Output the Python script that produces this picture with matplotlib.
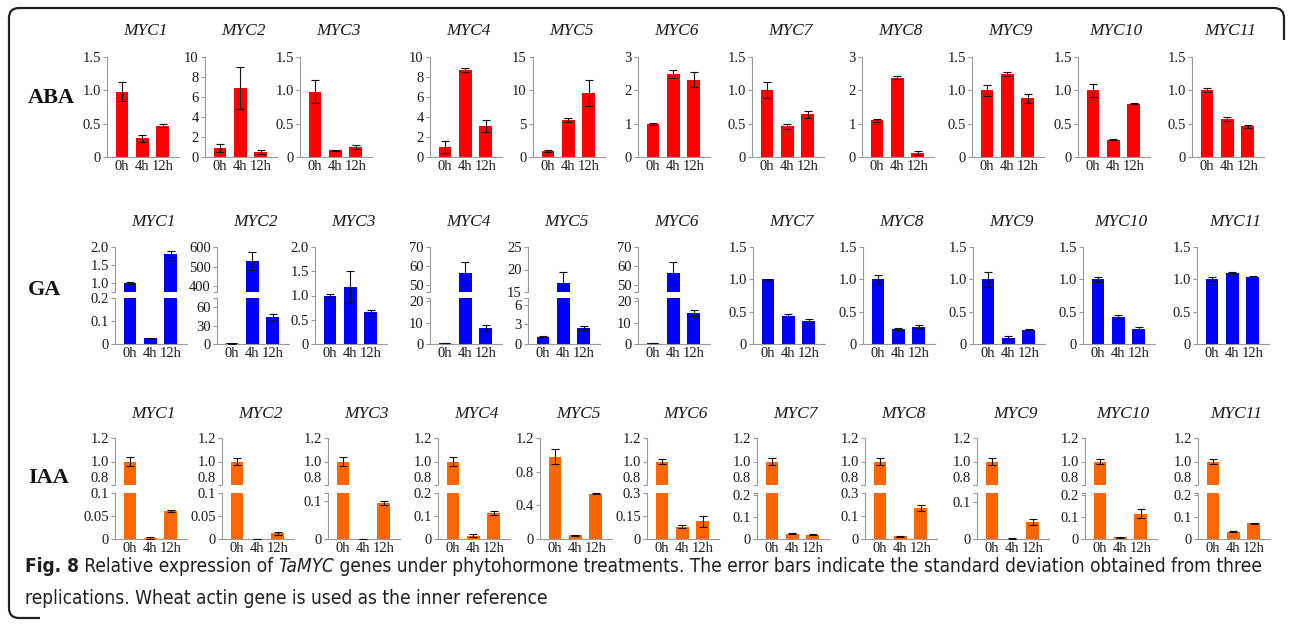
import numpy as np
import matplotlib
matplotlib.use('Agg')
import matplotlib.pyplot as plt
from matplotlib import font_manager
from matplotlib.path import Path
from matplotlib.patches import PathPatch

plt.rcParams['font.family'] = 'serif'
plt.rcParams['font.serif'] = ['Liberation Serif', 'DejaVu Serif']

genes = ['MYC1', 'MYC2', 'MYC3', 'MYC4', 'MYC5', 'MYC6',
         'MYC7', 'MYC8', 'MYC9', 'MYC10', 'MYC11']
times = ['0h', '4h', '12h']

# relative expression (0h, 4h, 12h) and standard deviation
aba_mean = [[0.98, 0.28, 0.47], [0.95, 6.9, 0.5], [0.98, 0.10, 0.15],
            [1.0, 8.7, 3.1], [0.9, 5.6, 9.6], [1.0, 2.48, 2.32],
            [1.0, 0.46, 0.64], [1.1, 2.38, 0.13], [1.0, 1.25, 0.88],
            [1.0, 0.26, 0.80], [1.0, 0.57, 0.46]]
aba_err = [[0.14, 0.05, 0.02], [0.4, 2.1, 0.2], [0.17, 0.01, 0.03],
           [0.6, 0.2, 0.6], [0.2, 0.3, 2.0], [0.03, 0.12, 0.22],
           [0.12, 0.04, 0.05], [0.05, 0.04, 0.06], [0.08, 0.03, 0.07],
           [0.10, 0.01, 0.01], [0.03, 0.03, 0.02]]

ga_mean = [[1.0, 0.025, 1.8], [1.0, 530, 44], [1.0, 1.17, 0.67],
           [0.5, 56, 7.5], [1.1, 17, 2.4], [0.5, 56, 14.5],
           [1.0, 0.44, 0.35], [1.0, 0.23, 0.27], [1.0, 0.10, 0.22],
           [1.0, 0.42, 0.23], [1.0, 1.10, 1.03]]
ga_err = [[0.03, 0.002, 0.08], [0.3, 45, 5], [0.03, 0.33, 0.03],
          [0.2, 6, 1.2], [0.05, 2.5, 0.3], [0.2, 6, 1.5],
          [0.01, 0.03, 0.03], [0.07, 0.01, 0.02], [0.12, 0.02, 0.01],
          [0.04, 0.03, 0.03], [0.03, 0.01, 0.02]]

iaa_mean = [[1.0, 0.003, 0.06], [1.0, 0.0005, 0.012], [1.0, 0.0005, 0.095],
            [1.0, 0.015, 0.113], [0.98, 0.045, 0.54], [1.0, 0.08, 0.115],
            [1.0, 0.025, 0.02], [1.0, 0.012, 0.135], [1.0, 0.001, 0.046],
            [1.0, 0.008, 0.115], [1.0, 0.033, 0.072]]
iaa_err = [[0.04, 0.002, 0.002], [0.03, 0.0005, 0.003], [0.04, 0.0005, 0.005],
           [0.04, 0.005, 0.01], [0.09, 0.005, 0.01], [0.02, 0.01, 0.035],
           [0.03, 0.002, 0.002], [0.03, 0.003, 0.012], [0.03, 0.001, 0.008],
           [0.02, 0.002, 0.02], [0.02, 0.002, 0.002]]

# axis scales: (ylim, tick values, tick labels); upper part is None when the axis is not broken
aba_axes = [(None, ((0, 1.5), [0, 0.5, 1.0, 1.5], ['0', '0.5', '1.0', '1.5'])),
            (None, ((0, 10), [0, 2, 4, 6, 8, 10], ['0', '2', '4', '6', '8', '10'])),
            (None, ((0, 1.5), [0, 0.5, 1.0, 1.5], ['0', '0.5', '1.0', '1.5'])),
            (None, ((0, 10), [0, 2, 4, 6, 8, 10], ['0', '2', '4', '6', '8', '10'])),
            (None, ((0, 15), [0, 5, 10, 15], ['0', '5', '10', '15'])),
            (None, ((0, 3), [0, 1, 2, 3], ['0', '1', '2', '3'])),
            (None, ((0, 1.5), [0, 0.5, 1.0, 1.5], ['0', '0.5', '1.0', '1.5'])),
            (None, ((0, 3), [0, 1, 2, 3], ['0', '1', '2', '3'])),
            (None, ((0, 1.5), [0, 0.5, 1.0, 1.5], ['0', '0.5', '1.0', '1.5'])),
            (None, ((0, 1.5), [0, 0.5, 1.0, 1.5], ['0', '0.5', '1.0', '1.5'])),
            (None, ((0, 1.5), [0, 0.5, 1.0, 1.5], ['0', '0.5', '1.0', '1.5']))]

ga_axes = [(((0.75, 2.0), [0.75, 1.0, 1.5, 2.0], ['', '1.0', '1.5', '2.0']),
            ((0, 0.2), [0, 0.1, 0.2], ['0', '0.1', '0.2'])),
           (((370, 600), [370, 400, 500, 600], ['', '400', '500', '600']),
            ((0, 75), [0, 30, 60, 75], ['0', '30', '60', ''])),
           (None, ((0, 2.0), [0, 0.5, 1.0, 1.5, 2.0], ['0', '0.5', '1.0', '1.5', '2.0'])),
           (((46, 70), [46, 50, 60, 70], ['', '50', '60', '70']),
            ((0, 21.5), [0, 10, 20, 21.5], ['0', '10', '20', ''])),
           (((15, 25), [15, 20, 25], ['15', '20', '25']),
            ((0, 7), [0, 3, 6, 7], ['0', '3', '6', ''])),
           (((46, 70), [46, 50, 60, 70], ['', '50', '60', '70']),
            ((0, 21.5), [0, 10, 20, 21.5], ['0', '10', '20', ''])),
           (None, ((0, 1.5), [0, 0.5, 1.0, 1.5], ['0', '0.5', '1.0', '1.5'])),
           (None, ((0, 1.5), [0, 0.5, 1.0, 1.5], ['0', '0.5', '1.0', '1.5'])),
           (None, ((0, 1.5), [0, 0.5, 1.0, 1.5], ['0', '0.5', '1.0', '1.5'])),
           (None, ((0, 1.5), [0, 0.5, 1.0, 1.5], ['0', '0.5', '1.0', '1.5'])),
           (None, ((0, 1.5), [0, 0.5, 1.0, 1.5], ['0', '0.5', '1.0', '1.5']))]

iaa_top = ((0.8, 1.2), [0.8, 1.0, 1.2], ['0.8', '1.0', '1.2'])
iaa_axes = [(iaa_top, ((0, 0.1), [0, 0.05, 0.1], ['0', '0.05', '0.1'])),
            (iaa_top, ((0, 0.1), [0, 0.05, 0.1], ['0', '0.05', '0.1'])),
            (iaa_top, ((0, 0.12), [0, 0.1, 0.12], ['0', '0.1', ''])),
            (iaa_top, ((0, 0.2), [0, 0.1, 0.2], ['0', '0.1', '0.2'])),
            (None, ((0, 1.2), [0, 0.4, 0.8, 1.2], ['0', '0.4', '0.8', '1.2'])),
            (iaa_top, ((0, 0.3), [0, 0.15, 0.3], ['0', '0.15', '0.3'])),
            (iaa_top, ((0, 0.21), [0, 0.1, 0.2, 0.21], ['0', '0.1', '0.2', ''])),
            (iaa_top, ((0, 0.2), [0, 0.1, 0.2], ['0', '0.1', '0.3'])),
            (iaa_top, ((0, 0.125), [0, 0.1, 0.125], ['0', '0.1', ''])),
            (iaa_top, ((0, 0.21), [0, 0.1, 0.2, 0.21], ['0', '0.1', '0.2', ''])),
            (iaa_top, ((0, 0.21), [0, 0.1, 0.2, 0.21], ['0', '0.1', '0.2', '']))]

W, H = 1292, 624
fig = plt.figure(figsize=(W / 100, H / 100), dpi=100)
fig.patch.set_facecolor('white')

AXW = 72  # axis width in px
GREY = '#9a9a9a'


def px_rect(x, ytop, ybot):
    return [x / W, 1 - ybot / H, AXW / W, (ybot - ytop) / H]


def style_axis(ax, scale, bottom):
    ylim, ticks, labels = scale
    ax.set_xlim(-0.75, 2.8)
    ax.set_ylim(*ylim)
    ax.set_yticks(ticks, labels)
    for s in ['top', 'right']:
        ax.spines[s].set_visible(False)
    ax.spines['left'].set_color(GREY)
    ax.spines['left'].set_linewidth(0.8)
    ax.spines['bottom'].set_color(GREY)
    ax.spines['bottom'].set_linewidth(0.8)
    ax.spines['bottom'].set_visible(bottom)
    ax.tick_params(axis='y', direction='out', length=3, width=0.8, color=GREY,
                   labelsize=10.5, labelcolor='#1a1a1a', pad=1.5)
    if bottom:
        ax.set_xticks(range(3), times)
        ax.tick_params(axis='x', length=0, labelsize=10.5, labelcolor='#1a1a1a', pad=2)
    else:
        ax.set_xticks([])
    ax.patch.set_alpha(0)


def draw_bars(ax, means, errs, color):
    x = np.arange(3)
    ax.bar(x, means, width=0.62, color=color, zorder=2)
    ax.errorbar(x, means, yerr=errs, fmt='none', ecolor='#111111',
                elinewidth=0.8, capsize=3, capthick=0.8, zorder=3)


rows = [
    dict(name='ABA', mean=aba_mean, err=aba_err, axes=aba_axes, color='#ff0000',
         xs=[107, 205, 300, 430, 533, 638, 752, 862, 972, 1078, 1192],
         top=57, zero=157, brk=None, title_y=31, label_y=98),
    dict(name='GA', mean=ga_mean, err=ga_err, axes=ga_axes, color='#0000ff',
         xs=[115, 217, 315, 430, 528, 638, 753, 863, 973, 1083, 1197],
         top=247, zero=344, brk=(292, 298), title_y=222, label_y=290),
    dict(name='IAA', mean=iaa_mean, err=iaa_err, axes=iaa_axes, color='#ff6600',
         xs=[115, 222, 328, 438, 540, 647, 757, 865, 977, 1085, 1198],
         top=438, zero=539, brk=(485, 493), title_y=414, label_y=478),
]

for row in rows:
    fig.text(28 / W, 1 - row['label_y'] / H, row['name'], fontsize=16,
             fontweight='bold', ha='left', va='center', color='#111111')
    for i, gene in enumerate(genes):
        x0 = row['xs'][i]
        upper, lower = row['axes'][i]
        fig.text((x0 + AXW / 2 + 2) / W, 1 - row['title_y'] / H, gene,
                 fontsize=12.5, style='italic', ha='center', va='center', color='#1a1a1a')
        if upper is None:
            ax = fig.add_axes(px_rect(x0, row['top'], row['zero']))
            draw_bars(ax, row['mean'][i], row['err'][i], row['color'])
            style_axis(ax, lower, True)
        else:
            b_up, b_lo = row['brk']
            ax_lo = fig.add_axes(px_rect(x0, b_lo, row['zero']))
            ax_up = fig.add_axes(px_rect(x0, row['top'], b_up))
            for ax in (ax_lo, ax_up):
                draw_bars(ax, row['mean'][i], row['err'][i], row['color'])
            style_axis(ax_lo, lower, True)
            style_axis(ax_up, upper, False)
            if row['name'] == 'IAA':
                ax_up.get_yticklabels()[0].set_va('bottom')

# frame round the figure (left, top and corner pieces)
r = 10
verts = [(1284, H - 40), (1284, H - 8 - r), (1284, H - 8), (1284 - r, H - 8),
         (9 + r, H - 8), (9, H - 8), (9, H - 8 - r),
         (9, H - 618 + r), (9, H - 618), (9 + r, H - 618), (40, H - 618)]
codes = [Path.MOVETO, Path.LINETO, Path.CURVE3, Path.CURVE3,
         Path.LINETO, Path.CURVE3, Path.CURVE3,
         Path.LINETO, Path.CURVE3, Path.CURVE3, Path.LINETO]
fig.patches.append(PathPatch(Path(verts, codes), transform=None, fill=False,
                             edgecolor='#222222', linewidth=1.6))

# caption
avail = {f.name for f in font_manager.fontManager.ttflist}
cap_kw = dict(color='#231f20')
if 'Liberation Sans Narrow' in avail:
    cap_kw['family'] = 'Liberation Sans Narrow'
else:
    cap_kw['family'] = 'DejaVu Sans'
    cap_kw['fontstretch'] = 'condensed'

renderer = fig.canvas.get_renderer()


def run_width(s, size, **kw):
    t1 = fig.text(0, 0, s + '|', fontsize=size, **cap_kw, **kw)
    t2 = fig.text(0, 0, '|', fontsize=size, **cap_kw, **kw)
    w = t1.get_window_extent(renderer).width - t2.get_window_extent(renderer).width
    t1.remove()
    t2.remove()
    return w


line1 = [('Fig. 8', dict(fontweight='bold')),
         (' Relative expression of ', {}),
         ('TaMYC', dict(style='italic')),
         (' genes under phytohormone treatments. The error bars indicate the '
          'standard deviation obtained from three', {})]
line2 = [('replications. Wheat actin gene is used as the inner reference', {})]

base = 10
w_total = sum(run_width(s, base, **kw) for s, kw in line1)
cap_size = base * 1240 / w_total

for line, y in [(line1, 567), (line2, 598)]:
    x = 25
    for s, kw in line:
        fig.text(x / W, 1 - y / H, s, fontsize=cap_size, ha='left', va='center',
                 **cap_kw, **kw)
        x += run_width(s, cap_size, **kw)

fig.savefig('out.png', dpi=100)
